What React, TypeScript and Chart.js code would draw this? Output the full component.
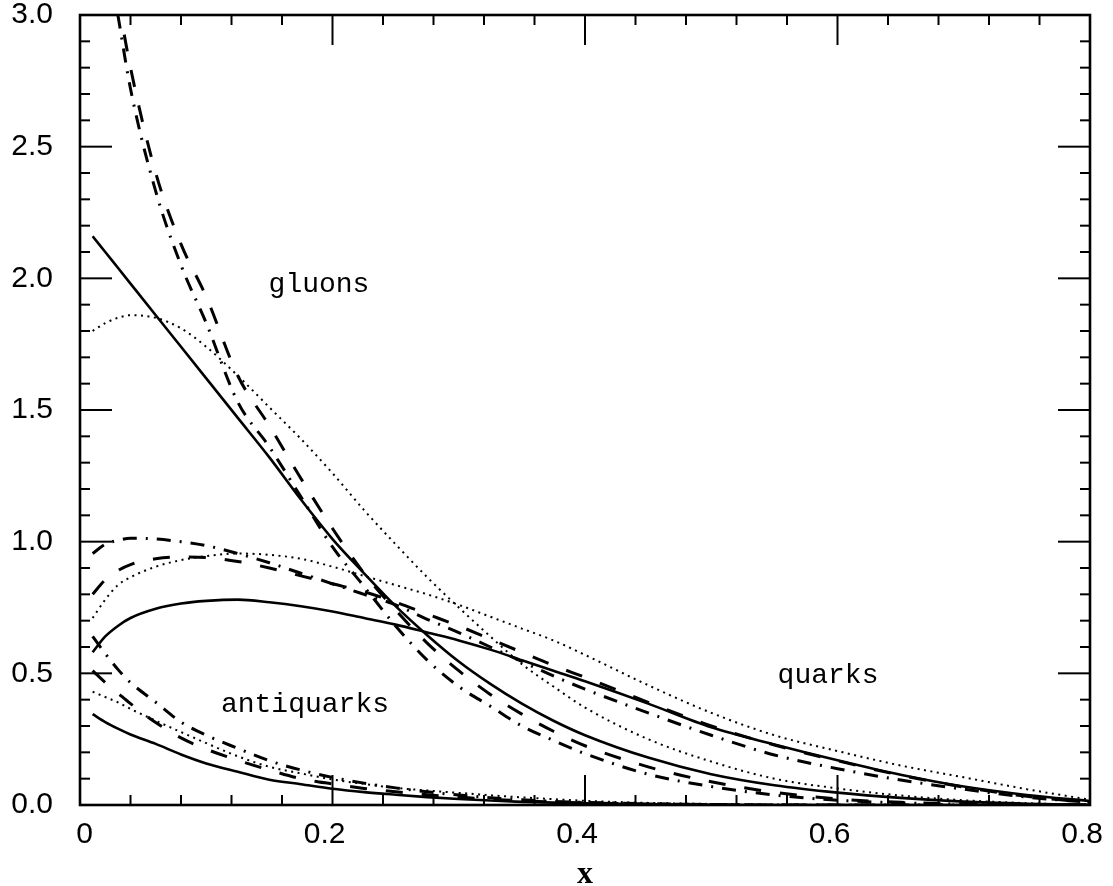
import React, { useEffect, useRef } from 'react';
import { Chart, registerables } from 'chart.js';

Chart.register(...registerables);

// Momentum fraction grid shared by every curve
const xGrid = [0.01, 0.02, 0.03, 0.04, 0.06, 0.08, 0.1, 0.125, 0.15, 0.175, 0.2, 0.225, 0.25, 0.275, 0.3, 0.325, 0.35, 0.375, 0.4, 0.45, 0.5, 0.55, 0.6, 0.65, 0.7, 0.75, 0.8];

// Gluon distributions
const gluonSolid = [2.16, 2.1, 2.04, 1.98, 1.86, 1.74, 1.62, 1.47, 1.32, 1.16, 1.01, 0.88, 0.755, 0.645, 0.545, 0.46, 0.385, 0.32, 0.265, 0.18, 0.117, 0.075, 0.047, 0.027, 0.013, 0.005, 0.0];
const gluonDotted = [1.8, 1.83, 1.85, 1.86, 1.85, 1.81, 1.74, 1.63, 1.51, 1.39, 1.26, 1.12, 0.99, 0.865, 0.75, 0.64, 0.535, 0.45, 0.37, 0.25, 0.165, 0.1, 0.063, 0.036, 0.018, 0.007, 0.0];
const gluonDashed = [null, null, 3.06, 2.8, 2.4, 2.13, 1.93, 1.63, 1.44, 1.24, 1.05, 0.88, 0.74, 0.615, 0.51, 0.42, 0.345, 0.28, 0.225, 0.145, 0.088, 0.048, 0.023, 0.01, 0.004, 0.001, 0.0];
const gluonDashDot = [null, null, 3.0, 2.72, 2.33, 2.05, 1.83, 1.53, 1.36, 1.17, 0.98, 0.83, 0.68, 0.55, 0.45, 0.375, 0.3, 0.245, 0.195, 0.117, 0.07, 0.038, 0.018, 0.008, 0.003, 0.001, 0.0];

// Quark distributions
const quarkSolid = [0.58, 0.64, 0.68, 0.71, 0.745, 0.765, 0.775, 0.78, 0.77, 0.755, 0.735, 0.71, 0.685, 0.655, 0.625, 0.59, 0.55, 0.51, 0.47, 0.385, 0.295, 0.23, 0.17, 0.115, 0.07, 0.038, 0.015];
const quarkDotted = [0.71, 0.78, 0.835, 0.865, 0.905, 0.93, 0.945, 0.955, 0.95, 0.935, 0.905, 0.87, 0.835, 0.8, 0.76, 0.715, 0.67, 0.625, 0.57, 0.455, 0.35, 0.265, 0.205, 0.15, 0.105, 0.06, 0.02];
const quarkDashed = [0.8, 0.855, 0.89, 0.913, 0.935, 0.942, 0.94, 0.925, 0.9, 0.87, 0.84, 0.81, 0.77, 0.725, 0.68, 0.63, 0.58, 0.53, 0.485, 0.39, 0.3, 0.228, 0.168, 0.113, 0.068, 0.033, 0.01];
const quarkDashDot = [0.955, 0.99, 1.005, 1.013, 1.01, 1.0, 0.985, 0.955, 0.92, 0.88, 0.84, 0.8, 0.76, 0.705, 0.655, 0.6, 0.545, 0.49, 0.44, 0.35, 0.265, 0.19, 0.138, 0.095, 0.06, 0.03, 0.01];

// Antiquark distributions
const antiSolid = [0.345, 0.315, 0.29, 0.268, 0.232, 0.192, 0.158, 0.126, 0.096, 0.079, 0.062, 0.049, 0.039, 0.03, 0.023, 0.017, 0.012, 0.009, 0.006, 0.003, 0.001, 0, 0, 0, 0, 0, 0];
const antiDotted = [0.43, 0.41, 0.39, 0.365, 0.32, 0.277, 0.235, 0.185, 0.145, 0.12, 0.097, 0.08, 0.065, 0.055, 0.046, 0.037, 0.029, 0.022, 0.016, 0.008, 0.004, 0.002, 0.001, 0, 0, 0, 0];
const antiDashed = [0.51, 0.465, 0.425, 0.385, 0.313, 0.255, 0.212, 0.17, 0.133, 0.1, 0.08, 0.063, 0.05, 0.039, 0.03, 0.022, 0.016, 0.011, 0.008, 0.004, 0.002, 0, 0, 0, 0, 0, 0];
const antiDashDot = [0.64, 0.575, 0.515, 0.465, 0.39, 0.315, 0.265, 0.215, 0.168, 0.133, 0.105, 0.083, 0.065, 0.05, 0.038, 0.028, 0.02, 0.014, 0.01, 0.005, 0.002, 0, 0, 0, 0, 0, 0];

// Curve-group captions and their anchors in data units
const captionText = ['gluons', 'quarks', 'antiquarks'];
const captionX = [0.1893, 0.5925, 0.1782];
const captionY = [1.948, 0.463, 0.353];

// Axis ranges and tick spacing
const X_MAX = 0.8;
const Y_MAX = 3.0;
const X_LABEL_STEP = 0.2;
const Y_LABEL_STEP = 0.5;
const X_MINOR_COUNT = 20; // minor ticks every 0.04
const Y_MINOR_COUNT = 30; // minor ticks every 0.1

const SOLID: number[] = [];
const DASHED = [17, 19];
const DASHDOT = [14, 9, 2, 9];
const DOTTED = [2, 4.5];

type Style = { dash: number[]; width: number };
const styles: Record<string, Style> = {
  solid: { dash: SOLID, width: 2.6 },
  dashed: { dash: DASHED, width: 3 },
  dashdot: { dash: DASHDOT, width: 3 },
  dotted: { dash: DOTTED, width: 2 },
};

const series: { name: string; values: (number | null)[]; style: string }[] = [
  { name: 'gluon solid', values: gluonSolid, style: 'solid' },
  { name: 'gluon dotted', values: gluonDotted, style: 'dotted' },
  { name: 'gluon dashed', values: gluonDashed, style: 'dashed' },
  { name: 'gluon dash-dot', values: gluonDashDot, style: 'dashdot' },
  { name: 'quark solid', values: quarkSolid, style: 'solid' },
  { name: 'quark dotted', values: quarkDotted, style: 'dotted' },
  { name: 'quark dashed', values: quarkDashed, style: 'dashed' },
  { name: 'quark dash-dot', values: quarkDashDot, style: 'dashdot' },
  { name: 'antiquark solid', values: antiSolid, style: 'solid' },
  { name: 'antiquark dotted', values: antiDotted, style: 'dotted' },
  { name: 'antiquark dashed', values: antiDashed, style: 'dashed' },
  { name: 'antiquark dash-dot', values: antiDashDot, style: 'dashdot' },
];

const TICK_FONT = { family: '"Liberation Sans", Arial, sans-serif', size: 30 };

// Closed frame with inward ticks on all four sides, plus the curve captions
const framePlugin = {
  id: 'frameAndCaptions',
  afterDatasetsDraw(chart: any) {
    const { ctx, chartArea: a, scales } = chart;
    const xs = scales.x;
    const ys = scales.y;
    ctx.save();
    ctx.strokeStyle = '#000';
    ctx.lineCap = 'butt';
    ctx.setLineDash([]);

    ctx.lineWidth = 2;
    const seg = (x1: number, y1: number, x2: number, y2: number) => {
      ctx.beginPath();
      ctx.moveTo(x1, y1);
      ctx.lineTo(x2, y2);
      ctx.stroke();
    };
    for (let i = 0; i <= Y_MINOR_COUNT; i++) {
      const py = ys.getPixelForValue((i * Y_MAX) / Y_MINOR_COUNT);
      const len = i % 5 === 0 ? 32 : 10;
      seg(a.left, py, a.left + len, py);
      seg(a.right, py, a.right - len, py);
    }
    for (let i = 0; i <= X_MINOR_COUNT; i++) {
      const px = xs.getPixelForValue((i * X_MAX) / X_MINOR_COUNT);
      const len = i % 5 === 0 ? 30 : 10;
      seg(px, a.bottom, px, a.bottom - len);
      seg(px, a.top, px, a.top + len);
    }

    ctx.lineWidth = 2.6;
    ctx.strokeRect(a.left, a.top, a.right - a.left, a.bottom - a.top);

    ctx.fillStyle = '#000';
    ctx.font = '28px "Liberation Mono", "DejaVu Sans Mono", monospace';
    ctx.textAlign = 'center';
    ctx.textBaseline = 'alphabetic';
    captionText.forEach((t, i) => {
      ctx.fillText(t, xs.getPixelForValue(captionX[i]), ys.getPixelForValue(captionY[i]));
    });
    ctx.restore();
  },
};

export default function App() {
  const canvasRef = useRef<HTMLCanvasElement>(null);

  useEffect(() => {
    const canvas = canvasRef.current;
    if (!canvas) return;

    const datasets = series.map((s) => {
      const st = styles[s.style];
      const pts: { x: number; y: number }[] = [];
      xGrid.forEach((x, i) => {
        const v = s.values[i];
        if (v !== null && v !== undefined) pts.push({ x, y: v });
      });
      return {
        label: s.name,
        data: pts,
        borderColor: '#000',
        backgroundColor: '#000',
        borderWidth: st.width,
        borderDash: st.dash,
        borderCapStyle: 'butt' as const,
        pointRadius: 0,
        fill: false,
        cubicInterpolationMode: 'monotone' as const,
      };
    });

    const chart = new Chart(canvas, {
      type: 'line',
      data: { datasets },
      plugins: [framePlugin],
      options: {
        responsive: false,
        animation: false,
        devicePixelRatio: 1,
        layout: { padding: { top: 15, right: 23, left: 0, bottom: 0 } },
        plugins: {
          legend: { display: false },
          tooltip: { enabled: false },
        },
        scales: {
          x: {
            type: 'linear',
            min: 0,
            max: X_MAX,
            grid: { display: false, drawTicks: false },
            border: { display: false },
            ticks: {
              stepSize: X_LABEL_STEP,
              padding: 12,
              align: 'end',
              labelOffset: 13,
              color: '#000',
              maxRotation: 0,
              autoSkip: false,
              font: TICK_FONT,
              callback: (v: any) => (Number(v) === 0 ? '0' : Number(v).toFixed(1)),
            },
            title: {
              display: true,
              text: 'x',
              color: '#000',
              padding: { top: 0, bottom: 0 },
              font: { family: '"Liberation Serif", "DejaVu Serif", serif', size: 32, weight: 'bold', lineHeight: 0.72 },
            },
            afterFit: (scale: any) => {
              scale.height = 81;
              scale.paddingLeft = 0;
              scale.paddingRight = 0;
            },
          },
          y: {
            type: 'linear',
            min: 0,
            max: Y_MAX,
            grid: { display: false, drawTicks: false },
            border: { display: false },
            ticks: {
              stepSize: Y_LABEL_STEP,
              padding: 27,
              color: '#000',
              font: TICK_FONT,
              callback: (v: any) => Number(v).toFixed(1),
            },
            afterFit: (scale: any) => {
              scale.width = 80;
              scale.paddingTop = 0;
              scale.paddingBottom = 0;
            },
          },
        },
      },
    });

    return () => chart.destroy();
  }, []);

  return (
    <div style={{ position: 'fixed', left: 0, top: 0, width: 1113, height: 886, background: '#fff' }}>
      <canvas ref={canvasRef} width={1113} height={886} style={{ display: 'block', width: 1113, height: 886 }} />
    </div>
  );
}
